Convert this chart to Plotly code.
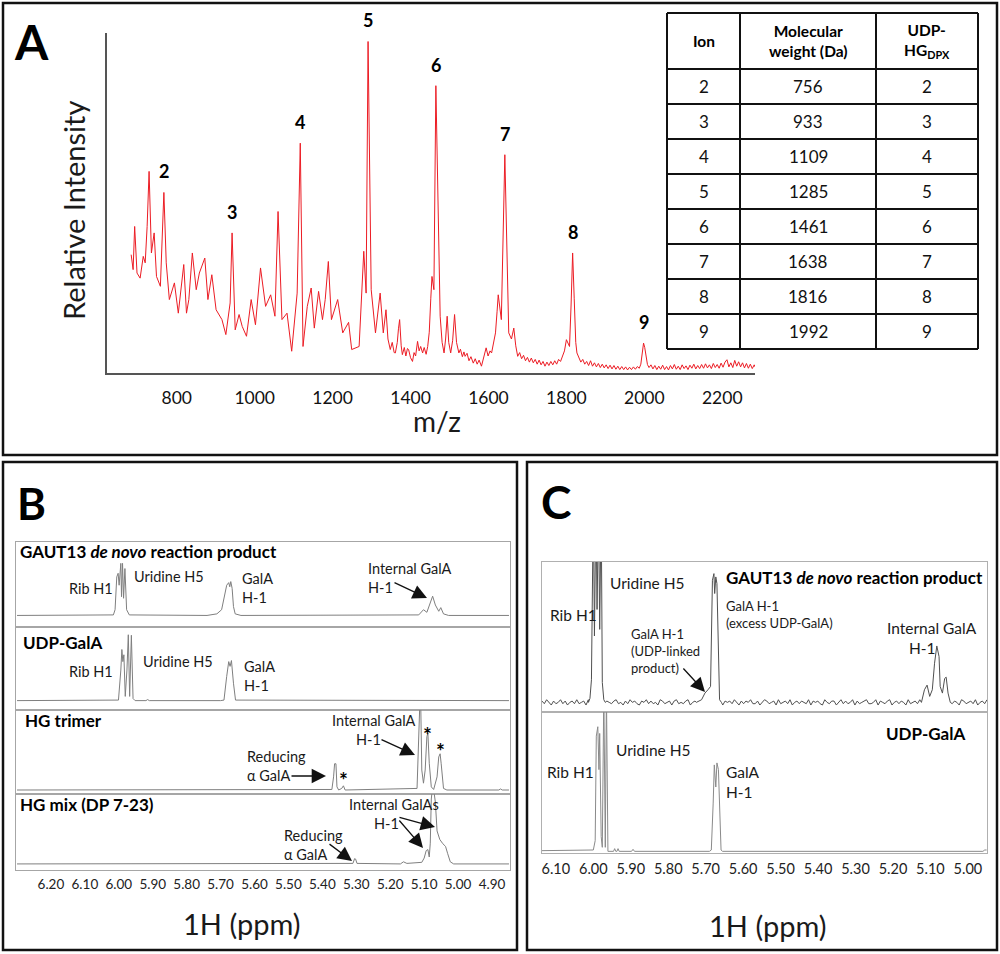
import numpy as np
import plotly.graph_objects as go

W, H = 1000, 954
FONT = "Lato"

# ---------------- Panel A : MS spectrum (m/z, relative intensity 0-100) ----------------
ms_mz = [683, 688, 692, 698, 706, 714, 719, 724, 729, 735, 742, 748, 758, 767, 773, 781, 794,
         804, 818, 825, 831, 840, 850, 858, 872, 880, 890, 901, 916, 926, 937, 942, 950, 960,
         968, 979, 991, 1002, 1015, 1028, 1041, 1052, 1060, 1070, 1083, 1095, 1109, 1117, 1124,
         1135, 1145, 1153, 1164, 1174, 1181, 1189, 1197, 1213, 1226, 1241, 1249, 1268, 1280,
         1286, 1291, 1299, 1310, 1322, 1330,
         1337, 1342, 1348, 1353, 1358, 1361, 1366, 1369, 1372, 1376, 1379, 1384, 1388, 1392,
         1395, 1400, 1405, 1409, 1413, 1418, 1422, 1426, 1431, 1435, 1440, 1444, 1448, 1452,
         1455, 1460, 1465,
         1476, 1481, 1486, 1490, 1494, 1498, 1503, 1508, 1513, 1518, 1524, 1528, 1533, 1537,
         1540, 1545, 1550, 1555, 1561, 1566, 1571, 1576, 1582, 1587, 1594, 1599, 1604, 1608,
         1613, 1618, 1622, 1625, 1633, 1642, 1652, 1659,
         1665, 1670, 1675, 1680, 1685, 1690, 1695, 1700, 1705, 1710, 1715, 1720, 1725, 1730,
         1735, 1740, 1745, 1750, 1755, 1760, 1765, 1770, 1775, 1780, 1785, 1790, 1795, 1800,
         1805, 1808, 1812, 1816, 1820, 1824, 1827, 1832, 1837, 1842, 1847, 1852, 1857, 1862,
         1867, 1872, 1877, 1882, 1887, 1892, 1897, 1902, 1907, 1912, 1917, 1922, 1927, 1932,
         1937, 1942, 1947, 1952, 1957, 1962, 1967, 1972, 1977, 1982, 1987, 1991, 1995, 1998,
         2001, 2004, 2008, 2012, 2017, 2022, 2027, 2032, 2037, 2042, 2047, 2052, 2057, 2062,
         2067, 2072, 2077, 2082, 2087, 2092, 2097, 2102, 2107, 2112, 2117, 2122, 2127, 2132,
         2137, 2142, 2147, 2152, 2157, 2162, 2167, 2172, 2177, 2182, 2187, 2192, 2197, 2202,
         2207, 2212, 2217, 2222, 2227, 2232, 2237, 2242, 2247, 2252, 2257, 2262, 2267, 2272,
         2277, 2282, 2284]
ms_int = [34.8, 30.4, 43.1, 29.4, 27.9, 34.3, 32.4, 43.1, 59.3, 35.3, 41.2, 28.4, 25.5, 53.1,
          32.4, 21.6, 26.5, 17.6, 31.9, 17.6, 21.6, 35.3, 24.5, 29.4, 33.8, 21.6, 28.9, 18.6,
          15.7, 11.3, 20.6, 41.2, 12.7, 17.2, 13.7, 10.8, 21.6, 14.2, 30.9, 19.6, 23.0, 16.7,
          47.5, 15.7, 17.6, 6.4, 23.5, 67.6, 7.8, 19.6, 25.0, 13.2, 24.0, 15.7, 21.6, 32.8, 15.7,
          21.6, 11.8, 14.9, 6.9, 7.8, 35.8, 23.5, 97.5, 24.5, 11.8, 23.5, 11.8,
          18.6, 10.0, 6.9, 9.0, 6.0, 5.9, 9.0, 13.0, 15.7, 8.0, 5.4, 7.5, 5.0, 7.2,
          6.9, 4.5, 3.4, 6.0, 5.0, 9.3, 6.5, 7.8, 5.9, 7.5, 5.5, 7.8, 12.0, 22.0,
          28.4, 24.5, 84.5,
          16.7, 9.0, 5.9, 10.0, 16.7, 9.0, 5.9, 9.5, 17.2, 9.0, 5.9, 7.0, 4.8, 6.2,
          4.9, 5.8, 3.6, 4.8, 2.9, 4.2, 2.6, 3.8, 2.0, 4.5, 7.4, 5.0, 6.5, 5.9,
          8.5, 11.8, 18.0, 23.0, 15.7, 64.2, 11.8, 10.0,
          13.2, 8.0, 4.9, 6.0, 4.2, 5.2, 3.6, 4.6, 3.2, 4.4, 3.0, 4.0, 2.6, 3.8,
          2.4, 3.4, 2.0, 3.2, 2.2, 3.4, 2.4, 3.6, 2.6, 4.0, 3.4, 5.0, 6.5, 9.8,
          8.5, 7.8, 20.0, 35.3, 22.0, 9.0, 5.9, 4.5, 3.2, 4.0, 2.6, 3.4, 2.2, 3.6,
          2.0, 3.0, 1.8, 2.8, 1.6, 2.6, 1.5, 2.4, 1.3, 2.3, 1.2, 2.2, 1.1, 2.0,
          1.0, 1.9, 1.0, 1.8, 0.9, 1.7, 1.0, 1.8, 1.1, 1.9, 1.4, 2.6, 6.5, 8.8,
          7.5, 5.0, 2.5, 1.6, 2.4, 1.2, 2.2, 1.0, 2.0, 1.1, 2.3, 1.0, 1.9, 0.9,
          2.2, 1.2, 2.5, 1.1, 2.0, 1.0, 2.4, 1.3, 2.1, 1.0, 2.3, 1.4, 2.6, 1.2,
          2.2, 1.3, 2.5, 1.4, 2.7, 1.5, 2.4, 1.3, 2.8, 1.6, 2.5, 1.4, 2.9, 1.7,
          3.2, 3.9, 1.8, 3.0, 1.6, 3.7, 2.0, 3.3, 1.8, 3.0, 1.5, 2.8, 1.4, 2.6,
          1.3, 2.4, 1.8]
ms_ticks = [800, 1000, 1200, 1400, 1600, 1800, 2000, 2200]
ion_labels = ["2", "3", "4", "5", "6", "7", "8", "9"]
ion_peak_mz = [767, 942, 1117, 1291, 1465, 1642, 1816, 1998]

# table
table_header = ["Ion", "Molecular<br>weight (Da)", "UDP-<br>HG<sub>DPX</sub>"]
table_ion = [2, 3, 4, 5, 6, 7, 8, 9]
table_mw = [756, 933, 1109, 1285, 1461, 1638, 1816, 1992]
table_dpx = [2, 3, 4, 5, 6, 7, 8, 9]

# ---------------- Panel B : 1H NMR (ppm, relative intensity) ----------------
b1_ppm = [6.30, 6.016, 6.011, 6.006, 6.002, 5.999, 5.994, 5.992, 5.989, 5.986, 5.982, 5.977,
          5.969, 5.74, 5.711, 5.697, 5.682, 5.676, 5.673, 5.670, 5.666, 5.662, 5.657, 5.64,
          5.116, 5.102, 5.092, 5.082, 5.075, 5.067, 5.057, 5.051, 5.043, 5.028, 4.85]
b1_int = [0, 0.01, 0.11, 0.74, 0.81, 0.58, 1.00, 0.36, 1.00, 0.33, 0.90, 0.11, 0.01, 0.0,
          0.03, 0.11, 0.58, 0.63, 0.55, 0.65, 0.52, 0.17, 0.03, 0.0, 0.01, 0.11, 0.06, 0.27,
          0.37, 0.20, 0.08, 0.15, 0.03, 0, 0]
b2_ppm = [6.30, 6.001, 5.994, 5.991, 5.988, 5.985, 5.981, 5.976, 5.972, 5.968, 5.963, 5.958,
          5.952, 5.92, 5.915, 5.91, 5.70, 5.690, 5.682, 5.676, 5.672, 5.668, 5.662, 5.656, 4.85]
b2_int = [0, 0.01, 0.58, 0.97, 0.74, 0.87, 0.08, 0.58, 1.25, 0.08, 1.24, 0.04, 0, 0, 0.02, 0,
          0, 0.01, 0.46, 0.74, 0.65, 0.76, 0.33, 0.01, 0]
b3_ppm = [6.30, 5.372, 5.367, 5.364, 5.360, 5.357, 5.352, 5.343, 5.338, 5.333, 5.121, 5.116,
          5.113, 5.110, 5.107, 5.102, 5.097, 5.092, 5.089, 5.085, 5.079, 5.072, 5.062, 5.057,
          5.053, 5.050, 5.043, 5.033, 4.88, 4.875, 4.87, 4.85]
b3_int = [0, 0.01, 0.25, 0.50, 0.50, 0.06, 0, 0.03, 0.08, 0, 0.03, 1.27, 1.60, 1.60, 0.38,
          0.13, 0.38, 1.02, 1.08, 0.51, 0.06, 0.01, 0.25, 0.63, 0.69, 0.51, 0.03, 0, 0, 0.02,
          0, 0]
b4_ppm = [6.30, 5.310, 5.305, 5.302, 5.298, 5.170, 5.161, 5.151, 5.107, 5.100, 5.094, 5.089,
          5.085, 5.082, 5.079, 5.076, 5.072, 5.067, 5.062, 5.054, 5.045, 5.037, 5.031, 5.023,
          5.013, 4.85]
b4_int = [0, 0.01, 0.10, 0.09, 0.01, 0, 0.04, 0.01, 0.03, 0.11, 0.25, 0.27, 0.13, 0.39, 1.22,
          1.40, 1.40, 1.16, 0.62, 0.46, 0.38, 0.33, 0.20, 0.04, 0, 0]
b_ticks = [6.2, 6.1, 6.0, 5.9, 5.8, 5.7, 5.6, 5.5, 5.4, 5.3, 5.2, 5.1, 5.0, 4.9]

# ---------------- Panel C : 1H NMR ----------------
c1_peak_ppm = [6.013, 6.009, 6.005, 6.000, 5.997, 5.993, 5.990, 5.986, 5.983, 5.979, 5.976,
               5.972, 5.968,
               5.725, 5.711, 5.702, 5.694, 5.687, 5.682, 5.678, 5.676, 5.673, 5.670, 5.666,
               5.663, 5.658,
               5.124, 5.116, 5.109, 5.102, 5.095, 5.089, 5.083, 5.077, 5.074, 5.068, 5.062,
               5.058, 5.053, 5.047]
c1_peak_int = [0, 0.03, 0.17, 1.5, 0.5, 1.5, 0.7, 1.5, 0.55, 1.5, 0.15, 0.02, 0,
               0, 0.02, 0.07, 0.095, 0.12, 0.92, 0.97, 0.82, 0.945, 0.895, 0.245, 0.02, 0,
               0, 0.095, 0.13, 0.045, 0.095, 0.295, 0.425, 0.345, 0.12, 0.07, 0.18, 0.19,
               0.07, 0]
c1_peak_windows = [(6.013, 5.968), (5.725, 5.658), (5.124, 5.047)]
# baseline noise of the top spectrum, in hundredths of the intensity unit
c1_noise_hundredths = [1, -1, 2, 0, -2, 1, -1, 0, 2, -1, 1, -2, 0, 1, -1, 2, -1, 0, 1, -2, 2, 0,
                       -1, 1, -1, 0, 2, -2, 1, 0, -1, 1, 2, -1, 0, -2, 1, -1, 2, 0, 1, -1, -2,
                       1, 0, 2, -1, 1, -1, 0, -2, 2, 1, -1, 0, 1, -2, 1, 2, -1, 0, -1, 1, 2, -2,
                       0, 1, -1, 1, 0, -2, 2, -1, 1, 0, -1, 2, -1, -2, 1, 0, 1, -1, 2, 0, -2, 1,
                       -1, 1, 0, 2, -1, -1, 1, -2, 0, 2, 1, -1, 0, 1, -2, 2, -1, 0, 1, -1, 2,
                       -2, 0, 1, -1, 1, 0, -1, 2, -2, 1, 0, 1, -1, -2, 2, 0, -1, 1, 1, -2, 0,
                       2, -1, 1, -1, 0, 2, -2, 1, -1, 0, 1, 2, -1, -1, 0, 2, -2, 1, 0, -1, 1,
                       2, -2, 0, 1, -1, 1, 0, -2, 2, -1, 0, 1, -1, 2, 0, -1, -2, 1, 2, 0, -1,
                       1, -2, 1, 0, 2, -1, -1, 1, 0, -2, 2, 1, -1, 0, 1, -1, 2, -2, 0, 1, -1, 2]
c2_ppm = [6.14, 6.000, 5.995, 5.992, 5.988, 5.985, 5.983, 5.979, 5.976, 5.972, 5.968, 5.965,
          5.961, 5.946, 5.943, 5.940, 5.937, 5.934, 5.931, 5.898, 5.894, 5.890, 5.69, 5.685,
          5.680, 5.677, 5.673, 5.670, 5.666, 5.662, 5.659, 5.655, 4.96, 4.955, 4.95]
c2_int = [0.005, 0.01, 0.08, 0.86, 0.93, 0.61, 0.88, 0.11, 0.03, 1.2, 0.03, 1.2, 0, 0, 0.02, 0,
          0, 0.02, 0, 0, 0.015, 0, 0, 0.01, 0.36, 0.645, 0.48, 0.66, 0.61, 0.23, 0.01, 0, 0,
          0.01, 0.01]
c_ticks = [6.1, 6.0, 5.9, 5.8, 5.7, 5.6, 5.5, 5.4, 5.3, 5.2, 5.1, 5.0]


# ---------------- helpers ----------------
def X(px):
    return px / W


def Y(py):
    return 1 - py / H


fig = go.Figure()

# Panel A spectrum
fig.add_trace(go.Scatter(x=ms_mz, y=ms_int, mode="lines",
                         line=dict(color="rgb(236,28,36)", width=1),
                         xaxis="x", yaxis="y", hoverinfo="skip"))

# Panel B spectra
b_data = [(b1_ppm, b1_int), (b2_ppm, b2_int), (b3_ppm, b3_int), (b4_ppm, b4_int)]
for i, (xx, yy) in enumerate(b_data):
    fig.add_trace(go.Scatter(x=xx, y=yy, mode="lines",
                             line=dict(color="#7f7f7f", width=1),
                             xaxis=f"x{i + 2}", yaxis=f"y{i + 2}", hoverinfo="skip"))

# Panel C top spectrum: peaks + baseline noise outside peak windows
grid = np.linspace(6.137, 4.949, len(c1_noise_hundredths))
noise = np.array(c1_noise_hundredths) / 100.0
keep = np.ones(len(grid), dtype=bool)
for hi, lo in c1_peak_windows:
    keep &= ~((grid <= hi) & (grid >= lo))
c1_x = np.concatenate([grid[keep], np.array(c1_peak_ppm)])
c1_y = np.concatenate([noise[keep], np.array(c1_peak_int)])
order = np.argsort(-c1_x)
fig.add_trace(go.Scatter(x=c1_x[order], y=c1_y[order], mode="lines",
                         line=dict(color="#505050", width=1),
                         xaxis="x6", yaxis="y6", hoverinfo="skip"))
fig.add_trace(go.Scatter(x=c2_ppm, y=c2_int, mode="lines",
                         line=dict(color="#8a8a8a", width=1),
                         xaxis="x7", yaxis="y7", hoverinfo="skip"))

layout = dict(
    width=W, height=H, margin=dict(l=0, r=0, t=0, b=0),
    paper_bgcolor="white", plot_bgcolor="white", showlegend=False,
    font=dict(family=FONT, color="#111"),
)

# A axes
layout["xaxis"] = dict(domain=[X(107), X(755)], range=[621, 2284], anchor="y",
                       showline=True, linecolor="#555", linewidth=1.5, showgrid=False,
                       zeroline=False, tickvals=ms_ticks, ticks="", ticklabelstandoff=8,
                       tickfont=dict(size=17.5, family=FONT, color="#111"))
layout["yaxis"] = dict(domain=[Y(373), Y(33)], range=[0, 100], anchor="x",
                       showline=True, linecolor="#555", linewidth=1.5, showgrid=False,
                       zeroline=False, showticklabels=False, ticks="")

# B axes
b_tops = [542, 627, 710, 794]
b_bots = [627, 710, 794, 870]
b_yranges = [[-0.222, 1.410], [-0.178, 1.397], [-0.076, 1.524], [-0.114, 1.314]]
for i in range(4):
    n = i + 2
    last = (i == 3)
    layout[f"xaxis{n}"] = dict(domain=[X(16), X(510)], range=[6.303, 4.847], anchor=f"y{n}",
                               showline=True, mirror=True, linecolor="#a6a6a6", linewidth=1,
                               showgrid=False, zeroline=False, ticks="",
                               tickvals=b_ticks, tickformat=".2f",
                               showticklabels=last, ticklabelstandoff=2,
                               tickfont=dict(size=13.5, family=FONT, color="#222"))
    layout[f"yaxis{n}"] = dict(domain=[Y(b_bots[i]), Y(b_tops[i])], range=b_yranges[i],
                               anchor=f"x{n}", showline=True, mirror=True,
                               linecolor="#a6a6a6", linewidth=1, showgrid=False,
                               zeroline=False, showticklabels=False, ticks="")

# C axes
c_tops = [562, 712]
c_bots = [712, 853]
c_yranges = [[-0.0725, 1.0575], [-0.0125, 1.04]]
for i in range(2):
    n = i + 6
    last = (i == 1)
    layout[f"xaxis{n}"] = dict(domain=[X(542), X(987)], range=[6.137, 4.949], anchor=f"y{n}",
                               showline=True, mirror=True, linecolor="#b0b0b0", linewidth=1,
                               showgrid=False, zeroline=False, ticks="",
                               tickvals=c_ticks, tickformat=".2f",
                               showticklabels=last, ticklabelstandoff=3,
                               tickfont=dict(size=14.5, family=FONT, color="#222"))
    layout[f"yaxis{n}"] = dict(domain=[Y(c_bots[i]), Y(c_tops[i])], range=c_yranges[i],
                               anchor=f"x{n}", showline=True, mirror=True,
                               linecolor="#b0b0b0", linewidth=1, showgrid=False,
                               zeroline=False, showticklabels=False, ticks="")

fig.update_layout(**layout)

# ---------------- shapes: panel frames and table grid ----------------
shapes = []
for (x0, y0, x1, y1) in [(3, 3, 997, 455), (3, 462, 517, 950), (527, 462, 997, 950)]:
    shapes.append(dict(type="rect", xref="paper", yref="paper", x0=X(x0), x1=X(x1),
                       y0=Y(y1), y1=Y(y0), line=dict(color="#111", width=2.5)))

col_edges = [667, 740, 876, 978]
row_edges = [13, 69] + [69 + 35 * (k + 1) for k in range(len(table_ion))]
for cx in col_edges:
    shapes.append(dict(type="line", xref="paper", yref="paper", x0=X(cx), x1=X(cx),
                       y0=Y(row_edges[0]), y1=Y(row_edges[-1]),
                       line=dict(color="#111", width=2)))
for ry in row_edges:
    shapes.append(dict(type="line", xref="paper", yref="paper", x0=X(col_edges[0]),
                       x1=X(col_edges[-1]), y0=Y(ry), y1=Y(ry),
                       line=dict(color="#111", width=2)))
fig.update_layout(shapes=shapes)

# ---------------- annotations ----------------
ann = []


def txt(text, x, y, size=14, xanchor="left", yanchor="middle", color="#1a1a1a", angle=0):
    ann.append(dict(text=text, x=X(x), y=Y(y), xref="paper", yref="paper", showarrow=False,
                    xanchor=xanchor, yanchor=yanchor, textangle=angle,
                    align=xanchor if xanchor != "center" else "center",
                    font=dict(family=FONT, size=size, color=color)))


def arrow(tx, ty, hx, hy):
    ann.append(dict(text="", x=X(hx), y=Y(hy), xref="paper", yref="paper", showarrow=True,
                    ax=tx - hx, ay=ty - hy, axref="pixel", ayref="pixel",
                    arrowhead=2, arrowsize=2.2, arrowwidth=1.3, arrowcolor="#111"))


# panel letters
txt("<b>A</b>", 31, 41, size=48, xanchor="center", color="#000")
txt("<b>B</b>", 31, 503, size=44, xanchor="center", color="#000")
txt("<b>C</b>", 556, 501, size=46, xanchor="center", color="#000")

# A labels
txt("Relative Intensity", 73, 211, size=29, xanchor="center", angle=-90)
txt("m/z", 437, 421, size=28, xanchor="center")
for lab, mz in zip(ion_labels, ion_peak_mz):
    k = int(np.argmin(np.abs(np.array(ms_mz) - mz)))
    ann.append(dict(text=f"<b>{lab}</b>", x=ms_mz[k], y=ms_int[k], xref="x", yref="y",
                    showarrow=False, yanchor="middle", yshift=21,
                    font=dict(family=FONT, size=18, color="#000")))

# table text
col_centers = [(col_edges[j] + col_edges[j + 1]) / 2 for j in range(3)]
for j, h in enumerate(table_header):
    txt(f"<b>{h}</b>", col_centers[j], (row_edges[0] + row_edges[1]) / 2, size=15.5,
        xanchor="center", color="#000")
for r in range(len(table_ion)):
    yc = (row_edges[r + 1] + row_edges[r + 2]) / 2
    for j, v in enumerate([table_ion[r], table_mw[r], table_dpx[r]]):
        txt(str(v), col_centers[j], yc, size=17, xanchor="center", color="#111")

# B labels
txt("<b>GAUT13 <i>de novo</i> reaction product</b>", 18, 551, size=17, color="#000")
txt("Rib H1", 115, 588, xanchor="right", size=14.5)
txt("Uridine H5", 132, 576, size=14.5)
txt("GalA<br>H-1", 240, 588, size=14.5)
txt("Internal GalA<br>H-1", 366, 578, size=14.5)
arrow(393, 582, 427, 598)

txt("<b>UDP-GalA</b>", 21, 642, size=17, color="#000")
txt("Rib H1", 115, 671, xanchor="right", size=14.5)
txt("Uridine H5", 141, 661, size=14.5)
txt("GalA<br>H-1", 242, 676, size=14.5)

txt("<b>HG trimer</b>", 23, 720, size=17, color="#000")
txt("Internal GalA", 330, 720, size=14.5)
txt("H-1", 354, 739, size=14.5)
arrow(380, 739, 415, 755)
txt("<b>*</b>", 427, 734, size=21, xanchor="center", color="#000")
txt("<b>*</b>", 440, 750, size=21, xanchor="center", color="#000")
txt("<b>*</b>", 343, 779, size=21, xanchor="center", color="#000")
txt("Reducing<br>α GalA", 245, 766, size=14.5)
arrow(290, 776, 326, 776)

txt("<b>HG mix (DP 7-23)</b>", 18, 804, size=17, color="#000")
txt("Internal GalAs", 347, 804, size=14.5)
txt("H-1", 372, 823, size=14.5)
arrow(398, 817, 435, 827)
arrow(398, 819, 423, 848)
txt("Reducing<br>α GalA", 282, 845, size=14.5)
arrow(328, 843, 352, 861)
txt("1H (ppm)", 242, 923, size=29, xanchor="center")

# C labels
txt("<b>GAUT13 <i>de novo</i> reaction product</b>", 985, 577, size=17, xanchor="right",
    color="#000")
txt("Uridine H5", 608, 583, size=15.5)
txt("Rib H1", 548, 615, size=15.5)
txt("GalA H-1<br>(excess UDP-GalA)", 724, 614, size=13)
txt("GalA H-1<br>(UDP-linked<br>product)", 629, 651, size=13)
arrow(682, 667, 705, 692)
txt("Internal GalA", 885, 628, size=15.5)
txt("H-1", 907, 648, size=15.5)
txt("<b>UDP-GalA</b>", 967, 733, size=17, xanchor="right", color="#000")
txt("Uridine H5", 614, 750, size=15.5)
txt("Rib H1", 545, 772, size=15.5)
txt("GalA<br>H-1", 724, 782, size=15.5)
txt("1H (ppm)", 768, 925, size=29, xanchor="center")

fig.update_layout(annotations=ann)
fig.write_html("out.html",
               config={"displayModeBar": False},
               post_script="document.body.style.margin='0px';"
                           "document.body.style.overflow='hidden';")
